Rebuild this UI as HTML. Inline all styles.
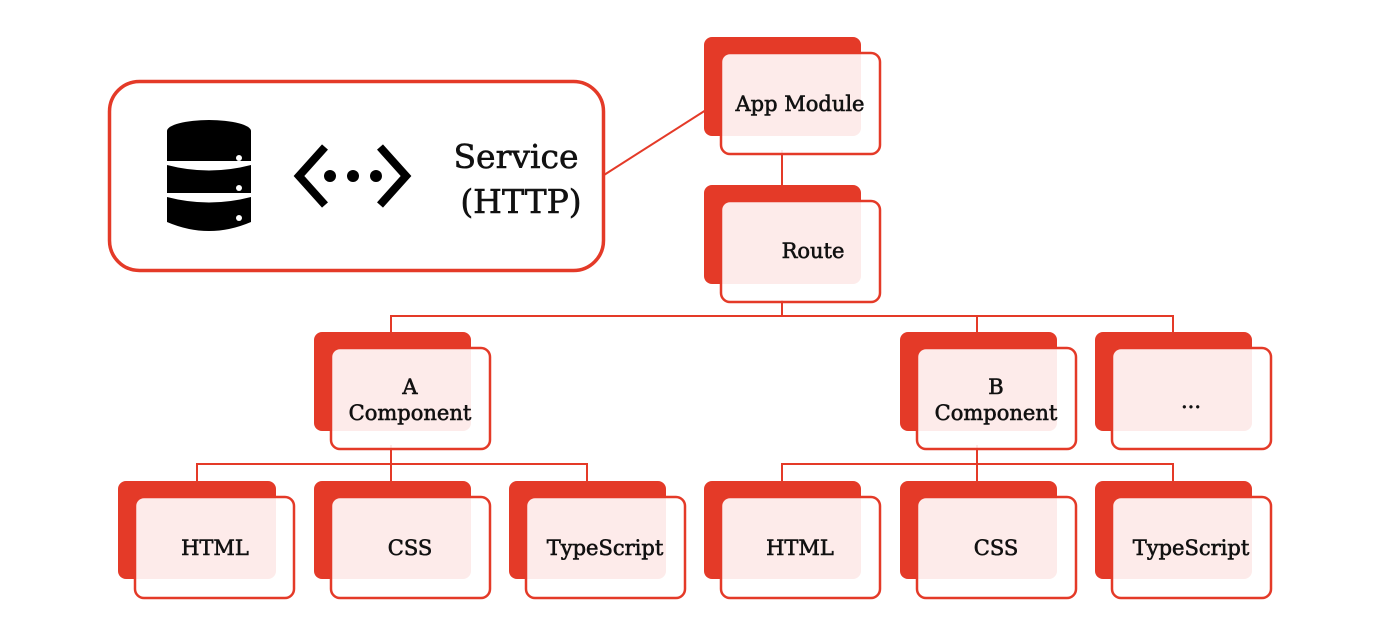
<!DOCTYPE html>
<html><head><meta charset="utf-8"><style>
html,body{margin:0;padding:0;background:#fff;width:1382px;height:642px;overflow:hidden}
text{font-family:"DejaVu Serif","Liberation Serif",serif;fill:#111;stroke:#111;stroke-width:0.6}
</style></head><body>
<svg width="1382" height="642" viewBox="0 0 1382 642" xmlns="http://www.w3.org/2000/svg">
<g stroke="#e43a28" stroke-width="2" fill="none">
<line x1="604" y1="175" x2="706" y2="110"/>
<line x1="782" y1="150" x2="782" y2="190"/>
<polyline points="782,300 782,316"/>
<polyline points="391,334 391,316 1173,316 1173,334"/>
<line x1="977" y1="316" x2="977" y2="334"/>
<polyline points="391,445 391,464"/>
<polyline points="197,483 197,464 587,464 587,483"/>
<line x1="391" y1="464" x2="391" y2="483"/>
<polyline points="977,445 977,464"/>
<polyline points="782,483 782,464 1173,464 1173,483"/>
<line x1="977" y1="464" x2="977" y2="483"/>
</g>
<rect x="109.5" y="81.5" width="494" height="189" rx="30" fill="none" stroke="#e43a28" stroke-width="3.5"/>
<g fill="#000">
<ellipse cx="209" cy="131" rx="42" ry="11"/>
<rect x="167" y="131" width="84" height="30"/>
<path d="M167,165 Q209,176 251,165 L251,193 L167,193 Z"/>
<path d="M167,197 Q209,208 251,197 L251,222 Q209,240 167,222 Z"/>
</g>
<g fill="#fff"><circle cx="239" cy="158" r="3"/><circle cx="239" cy="188" r="3"/><circle cx="239" cy="218" r="3"/></g>
<g stroke="#000" stroke-width="8" fill="none">
<polyline points="325,147 299,176 325,205"/>
<polyline points="380,147 406,176 380,205"/>
</g>
<g fill="#000"><circle cx="330" cy="176" r="6"/><circle cx="353" cy="176" r="6"/><circle cx="376" cy="176" r="6"/></g>
<text x="516" y="168" font-size="33" text-anchor="middle">Service</text>
<text x="521" y="213" font-size="33" text-anchor="middle">(HTTP)</text>
<g fill="#e43a28">
<rect x="704" y="37" width="157" height="99" rx="8"/>
<rect x="704" y="185" width="157" height="99" rx="8"/>
<rect x="314" y="332" width="157" height="99" rx="8"/>
<rect x="900" y="332" width="157" height="99" rx="8"/>
<rect x="1095" y="332" width="157" height="99" rx="8"/>
<rect x="118" y="481" width="158" height="98" rx="8"/>
<rect x="314" y="481" width="157" height="98" rx="8"/>
<rect x="509" y="481" width="157" height="98" rx="8"/>
<rect x="704" y="481" width="157" height="98" rx="8"/>
<rect x="900" y="481" width="157" height="98" rx="8"/>
<rect x="1095" y="481" width="157" height="98" rx="8"/>
</g>
<g fill="#fff" fill-opacity="0.9" stroke="#e43a28" stroke-width="2.5">
<rect x="721" y="53" width="159" height="101" rx="9"/>
<rect x="721" y="201" width="159" height="101" rx="9"/>
<rect x="331" y="348" width="159" height="101" rx="9"/>
<rect x="917" y="348" width="159" height="101" rx="9"/>
<rect x="1112" y="348" width="159" height="101" rx="9"/>
<rect x="135" y="497" width="159" height="101" rx="9"/>
<rect x="331" y="497" width="159" height="101" rx="9"/>
<rect x="526" y="497" width="159" height="101" rx="9"/>
<rect x="721" y="497" width="159" height="101" rx="9"/>
<rect x="917" y="497" width="159" height="101" rx="9"/>
<rect x="1112" y="497" width="159" height="101" rx="9"/>
</g>
<g font-size="21" text-anchor="middle">
<text x="800" y="111">App Module</text>
<text x="813" y="258">Route</text>
<text x="410" y="394">A</text>
<text x="410" y="420">Component</text>
<text x="996" y="394">B</text>
<text x="996" y="420">Component</text>
<text x="1191" y="408">...</text>
<text x="215" y="555">HTML</text>
<text x="410" y="555">CSS</text>
<text x="605" y="555">TypeScript</text>
<text x="800" y="555">HTML</text>
<text x="996" y="555">CSS</text>
<text x="1191" y="555">TypeScript</text>
</g>
</svg>
</body></html>
